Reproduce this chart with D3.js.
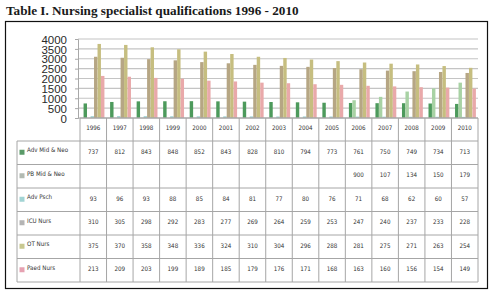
<!DOCTYPE html>
<html>
<head>
<meta charset="utf-8">
<script src="https://cdn.jsdelivr.net/npm/d3@7"></script>
<style>
    body { margin: 0; background: #fff; }
    svg { display: block; }
</style>
</head>
<body>
<div id="chart"></div>
<script>
const years = ["1996", "1997", "1998", "1999", "2000", "2001", "2002", "2003", "2004", "2005", "2006", "2007", "2008", "2009", "2010"];
const seriesNames = ["Adv Mid & Neo", "PB Mid & Neo", "Adv Psch", "ICU Nurs", "OT Nurs", "Paed Nurs"];
const seriesColors = ["#4d9a5c", "#a8d2a4", "#9fd2d2", "#b6a684", "#c6be80", "#e9a9aa"];
const swatchColors = ["#5a9a68", "#b2bab2", "#a2d4d4", "#b4b4b4", "#c8c890", "#e6a2b2"];

// values as printed in the table
const advMid = [737, 812, 843, 848, 852, 843, 828, 810, 794, 773, 761, 750, 749, 734, 713];
const pbMid = [null, null, null, null, null, null, null, null, null, null, 900, 107, 134, 150, 179];
const advPsch = [93, 96, 93, 88, 85, 84, 81, 77, 80, 76, 71, 68, 62, 60, 57];
const icu = [310, 305, 298, 292, 283, 277, 269, 264, 259, 253, 247, 240, 237, 233, 228];
const ot = [375, 370, 358, 348, 336, 324, 310, 304, 296, 288, 281, 275, 271, 263, 254];
const paed = [213, 209, 203, 199, 189, 185, 179, 176, 171, 168, 163, 160, 156, 154, 149];

// bar heights as drawn on the chart
const pbMidBars = [null, null, null, null, null, null, null, null, null, null, 900, 1070, 1340, 1500, 1790];
const barScale = [1, null, 1, 10, 10, 10];

const yTicks = [0, 500, 1000, 1500, 2000, 2500, 3000, 3500, 4000];

const tableRows = [advMid, pbMid, advPsch, icu, ot, paed];

function barValue(s, i) {
    if (s === 1) return pbMidBars[i];
    const v = tableRows[s][i];
    return v == null ? null : v * barScale[s];
}

const width = 493, height = 296;
const plotLeft = 80, plotRight = 478, plotTop = 39, plotBottom = 118;
const headerH = 23, rowH = 23.5, labelLeft = 17;

const svg = d3.select('#chart').append('svg')
    .attr('width', width)
    .attr('height', height)
    .attr('viewBox', [0, 0, width, height]);

// Title
svg.append('text')
    .attr('x', 6)
    .attr('y', 15)
    .style('font-family', '"Liberation Serif", serif')
    .style('font-weight', 'bold')
    .style('font-size', '13.2px')
    .attr('fill', '#1a1a1a')
    .text('Table I. Nursing specialist qualifications 1996 - 2010');

// Frame
svg.append('rect')
    .attr('x', 5.5).attr('y', 21.5)
    .attr('width', 482).attr('height', 267)
    .attr('fill', 'none')
    .attr('stroke', '#111')
    .attr('stroke-width', 1.2);

const x = d3.scaleBand().domain(years).range([plotLeft, plotRight]);
const xs = d3.scaleBand().domain(d3.range(seriesNames.length)).range([3.5, 24.5]).padding(0.02);
const y = d3.scaleLinear().domain([0, 4000]).range([plotBottom, plotTop]);

// Gridlines
svg.append('g')
    .selectAll('line')
    .data(yTicks.filter(d => d > 0))
    .join('line')
    .attr('x1', plotLeft - 2).attr('x2', plotRight)
    .attr('y1', d => y(d)).attr('y2', d => y(d))
    .attr('stroke', '#c4c4c4')
    .attr('stroke-width', 1.2);

// Y axis
const yAxis = svg.append('g')
    .attr('transform', `translate(${plotLeft - 2},0)`)
    .call(d3.axisLeft(y).tickValues(yTicks).tickFormat(d3.format('d')).tickSize(3).tickPadding(8));
yAxis.select('.domain').attr('stroke', '#a8a8a8');
yAxis.selectAll('.tick line').attr('stroke', '#a8a8a8');
yAxis.selectAll('text')
    .style('font-family', '"Liberation Sans", Arial, sans-serif')
    .style('font-size', '11.5px')
    .attr('fill', '#2a2a2a')
    .attr('dy', '0.36em');

// Bars
const groups = svg.append('g')
    .selectAll('g')
    .data(years)
    .join('g')
    .attr('transform', d => `translate(${x(d)},0)`);

groups.selectAll('rect')
    .data((d, i) => seriesNames.map((s, k) => ({ s: k, v: barValue(k, i) })).filter(e => e.v != null))
    .join('rect')
    .attr('x', d => xs(d.s))
    .attr('y', d => y(d.v))
    .attr('width', xs.bandwidth())
    .attr('height', d => y(0) - y(d.v))
    .attr('fill', d => seriesColors[d.s]);

// Baseline
svg.append('line')
    .attr('x1', plotLeft - 2).attr('x2', plotRight)
    .attr('y1', plotBottom).attr('y2', plotBottom)
    .attr('stroke', '#a8a8a8');

// Table
const table = svg.append('g');
const tableTop = plotBottom;
const bodyTop = tableTop + headerH;
const tableBottom = bodyTop + rowH * seriesNames.length;
const gridColor = '#a6a6a6';
const cellFont = '"DejaVu Sans Condensed", "Liberation Sans", sans-serif';

// horizontal lines
table.append('line')
    .attr('x1', plotLeft).attr('x2', plotRight)
    .attr('y1', tableTop).attr('y2', tableTop)
    .attr('stroke', gridColor);
table.selectAll('line.h')
    .data(d3.range(seriesNames.length + 1))
    .join('line')
    .attr('class', 'h')
    .attr('x1', labelLeft).attr('x2', plotRight)
    .attr('y1', i => bodyTop + i * rowH).attr('y2', i => bodyTop + i * rowH)
    .attr('stroke', gridColor);

// vertical lines
table.selectAll('line.v')
    .data(years.concat(['end']))
    .join('line')
    .attr('class', 'v')
    .attr('x1', d => d === 'end' ? plotRight : x(d))
    .attr('x2', d => d === 'end' ? plotRight : x(d))
    .attr('y1', tableTop).attr('y2', tableBottom)
    .attr('stroke', gridColor);
table.append('line')
    .attr('x1', labelLeft).attr('x2', labelLeft)
    .attr('y1', bodyTop).attr('y2', tableBottom)
    .attr('stroke', gridColor);

// header years
table.selectAll('text.year')
    .data(years)
    .join('text')
    .attr('class', 'year')
    .attr('x', d => x(d) + x.bandwidth() / 2)
    .attr('y', tableTop + headerH / 2 - 2)
    .attr('dy', '0.35em')
    .attr('text-anchor', 'middle')
    .style('font-family', cellFont)
    .style('font-size', '6.2px')
    .attr('fill', '#333')
    .text(d => d);

// row labels with swatches
const rowsG = table.selectAll('g.row')
    .data(seriesNames)
    .join('g')
    .attr('class', 'row')
    .attr('transform', (d, i) => `translate(0,${bodyTop + i * rowH + rowH / 2 - 1})`);

rowsG.append('rect')
    .attr('x', labelLeft + 2.5)
    .attr('y', -2)
    .attr('width', 5)
    .attr('height', 5)
    .attr('fill', (d, i) => swatchColors[i]);

rowsG.append('text')
    .attr('x', labelLeft + 10)
    .attr('y', 0)
    .attr('dy', '0.1em')
    .style('font-family', cellFont)
    .style('font-size', '6.2px')
    .attr('fill', '#333')
    .text(d => d);

rowsG.selectAll('text.val')
    .data((d, i) => tableRows[i].map((v, j) => ({ v, year: years[j] })).filter(e => e.v != null))
    .join('text')
    .attr('class', 'val')
    .attr('x', d => x(d.year) + x.bandwidth() / 2)
    .attr('y', 0)
    .attr('dy', '0.35em')
    .attr('text-anchor', 'middle')
    .style('font-family', cellFont)
    .style('font-size', '6.2px')
    .attr('fill', '#333')
    .text(d => d.v);
</script>
</body>
</html>
